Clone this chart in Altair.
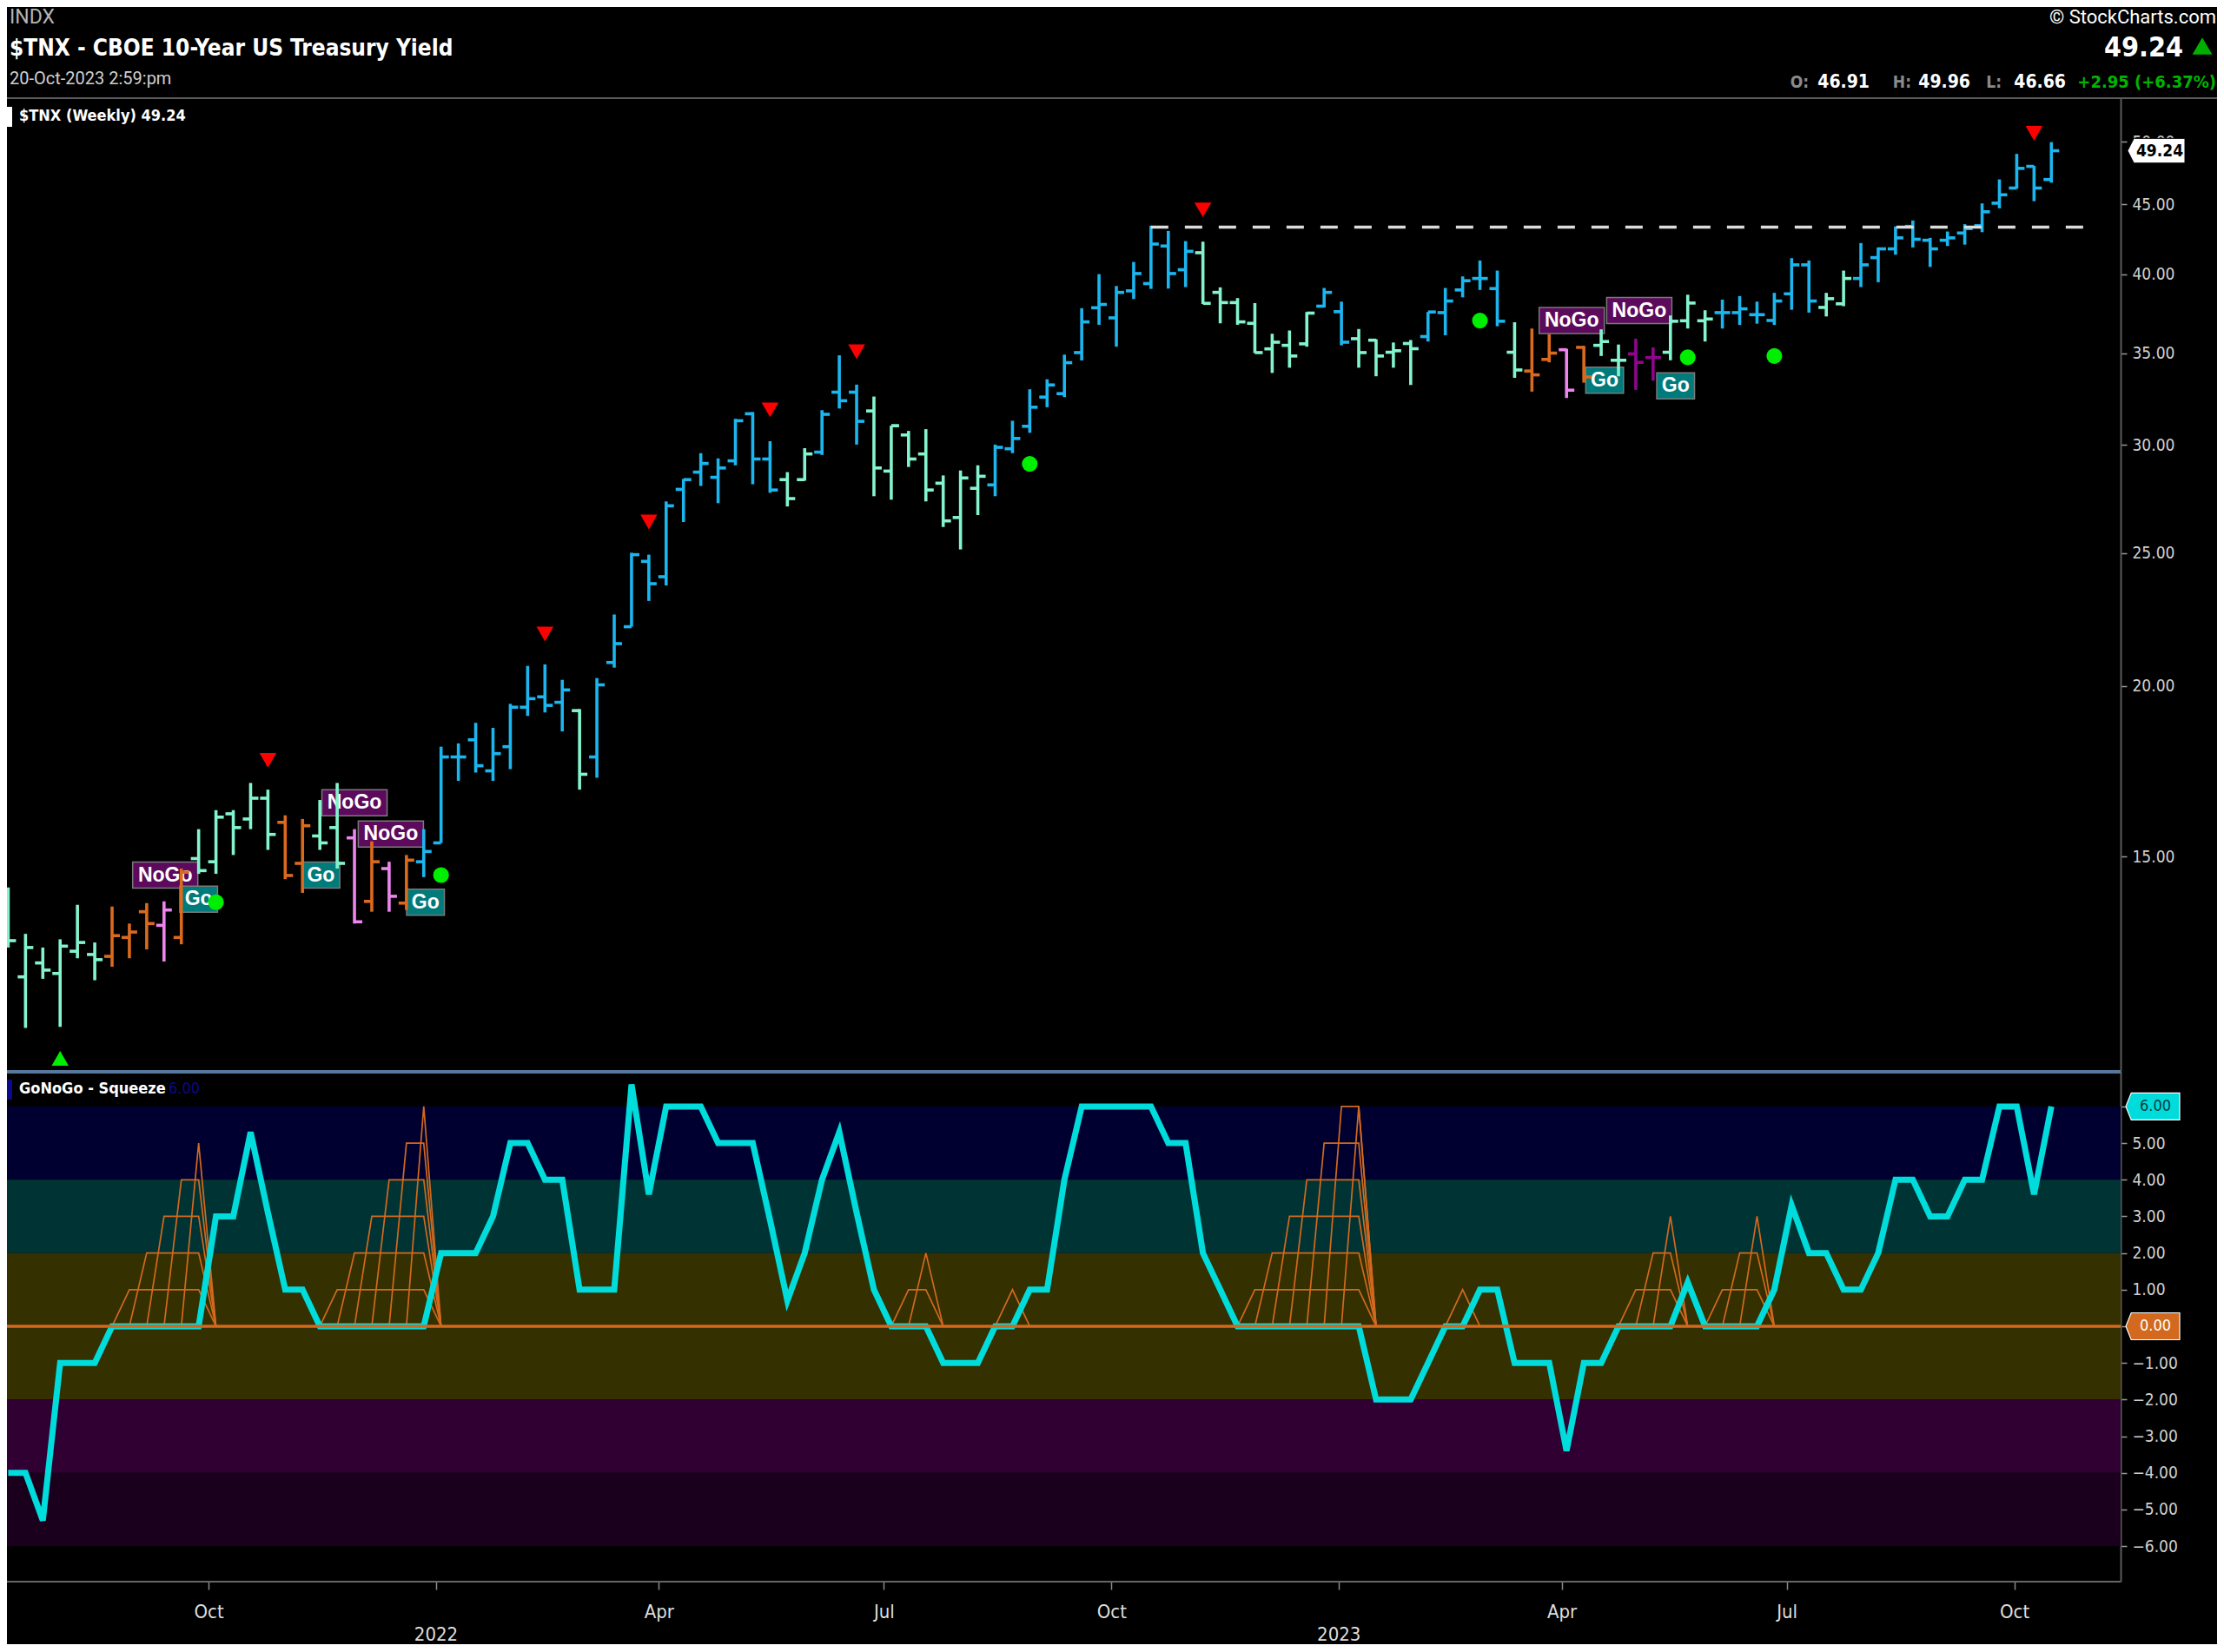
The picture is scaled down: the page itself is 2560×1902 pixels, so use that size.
import altair as alt
import numpy as np
import pandas as pd

# ------------------------------------------------------------------ data
week_start = "2021-07-12"          # first weekly bar

opens = [13.48, 12.25, 12.54, 12.32, 12.79, 12.72, 12.68, 13.09, 13.67, 13.36,
         13.09, 14.95, 14.87, 16.12, 15.98, 16.55, 15.89, 14.83, 15.53, 15.75,
         15.48, 13.91, 14.70, 13.87, 14.87, 15.35, 17.74, 18.26, 17.33, 18.05,
         19.29, 19.63, 19.45, 19.18, 17.74, 20.80, 22.09, 24.66, 24.03, 27.84,
         28.66, 28.41, 29.21, 31.62, 29.30, 28.30, 28.30, 29.64, 32.79, 32.79,
         31.77, 28.71, 30.51, 29.55, 28.13, 26.55, 27.89, 28.05, 29.81, 30.96,
         32.52, 32.71, 35.05, 37.80, 37.16, 38.89, 39.37, 41.94, 40.30, 41.47,
         38.79, 38.13, 36.82, 35.27, 35.48, 35.57, 37.90, 37.55, 35.88, 35.79,
         35.07, 35.59, 36.01, 37.49, 38.95, 39.71, 39.04, 35.07, 33.98, 34.65,
         35.22, 35.36, 35.48, 34.60, 34.98, 34.76, 35.07, 36.98, 36.98, 37.49,
         37.49, 37.36, 37.00, 38.70, 40.63, 37.82, 38.05, 39.71, 41.13, 41.74,
         43.35, 42.35, 42.35, 42.87, 43.40, 45.08, 46.24, 47.96, 46.91]
highs = [14.24, 13.17, 12.87, 13.05, 13.83, 12.98, 13.79, 13.40, 13.87, 13.91,
         14.70, 15.71, 16.22, 16.22, 16.98, 16.79, 16.08, 15.98, 16.50, 16.98,
         15.71, 15.39, 14.87, 15.04, 15.71, 18.05, 18.15, 18.79, 18.63, 19.40,
         20.68, 20.73, 20.20, 19.23, 20.26, 22.55, 25.02, 24.94, 27.28, 28.33,
         29.59, 29.33, 31.35, 31.71, 30.19, 28.66, 29.84, 31.81, 34.89, 33.21,
         32.55, 30.99, 30.72, 30.81, 28.50, 28.74, 28.99, 30.02, 31.25, 32.95,
         33.51, 34.93, 37.77, 40.00, 39.21, 40.83, 43.40, 43.02, 42.29, 42.25,
         39.12, 38.42, 38.10, 36.18, 36.38, 37.53, 39.08, 38.19, 36.47, 35.85,
         35.65, 35.80, 37.53, 39.08, 39.85, 40.93, 40.24, 36.89, 36.50, 36.15,
         35.28, 35.45, 36.45, 35.53, 35.88, 35.36, 37.31, 38.64, 37.64, 38.32,
         38.55, 38.19, 38.76, 41.09, 40.93, 38.76, 40.24, 42.15, 41.84, 43.35,
         43.78, 42.52, 42.98, 43.51, 45.06, 46.92, 48.98, 48.00, 49.96]
lows = [12.87, 11.24, 12.21, 11.26, 12.64, 12.18, 12.46, 12.64, 12.83, 12.57,
        12.94, 14.57, 14.57, 15.04, 15.71, 15.17, 14.44, 14.11, 15.17, 14.70,
        13.40, 13.67, 13.67, 13.71, 14.49, 15.35, 17.04, 17.28, 17.04, 17.38,
        19.01, 19.12, 18.52, 16.79, 17.13, 20.62, 22.09, 23.07, 23.68, 26.35,
        28.00, 27.20, 28.99, 28.08, 27.68, 27.05, 28.25, 29.50, 31.90, 30.02,
        27.52, 27.36, 28.91, 27.28, 26.13, 25.16, 26.66, 27.52, 29.59, 30.62,
        31.97, 32.52, 34.59, 36.73, 35.40, 38.36, 39.02, 39.04, 39.14, 38.04,
        36.82, 36.73, 35.02, 33.87, 34.17, 35.40, 37.82, 35.48, 34.17, 33.68,
        34.17, 33.19, 35.71, 36.09, 38.47, 38.95, 36.64, 33.59, 32.82, 34.48,
        32.47, 33.32, 34.85, 33.68, 32.92, 33.43, 34.60, 36.50, 35.71, 36.50,
        36.72, 36.80, 36.72, 37.67, 37.49, 37.25, 37.90, 39.14, 39.46, 41.33,
        41.84, 40.49, 41.94, 42.04, 42.93, 44.69, 46.19, 45.23, 46.66]
closes = [13.02, 12.87, 12.39, 12.90, 12.98, 12.61, 13.13, 13.21, 13.40, 13.71,
          14.61, 14.65, 16.03, 15.75, 16.55, 15.57, 14.53, 15.80, 15.35, 14.83,
          13.44, 14.87, 14.03, 14.91, 15.13, 17.74, 17.74, 17.48, 17.84, 19.29,
          19.57, 19.35, 19.86, 17.23, 20.03, 21.47, 24.94, 23.75, 27.08, 28.30,
          29.08, 28.86, 31.25, 29.30, 27.81, 27.41, 29.55, 31.59, 32.32, 31.22,
          28.86, 30.99, 29.30, 27.81, 26.40, 28.38, 28.46, 29.88, 30.33, 31.97,
          33.19, 34.46, 36.91, 38.01, 38.79, 40.04, 42.08, 40.04, 41.57, 38.08,
          38.13, 36.91, 35.05, 35.67, 34.85, 37.46, 38.79, 35.67, 35.05, 34.85,
          35.16, 35.28, 37.53, 38.23, 39.56, 39.71, 36.95, 34.04, 33.76, 35.02,
          32.90, 33.64, 35.71, 34.60, 34.48, 34.76, 36.95, 38.10, 37.09, 37.49,
          37.73, 37.36, 38.23, 40.63, 38.23, 38.38, 39.71, 40.63, 41.74, 42.52,
          42.42, 41.74, 42.52, 43.19, 44.43, 45.72, 47.80, 46.24, 49.24]
# GoNoGo trend colour per bar: b=strong Go, w=weak Go, a=amber, p=weak NoGo, n=NoGo
trend = list("wwwwww" "aaa" "p" "a" "wwwww" "aa" "ww" "p" "a" "p" "a"
             "bbbbbbbbb" "w" "bbbbbbbbbbb" "ww" "bbb" "wwwwwww" "bbbbbbbbbbbb"
             "wwwwwww" "bb" "wwww" "bbbbb" "w" "aa" "p" "a" "ww" "nn" "www"
             "bbbbbb" "ww" "bbbbbbbbbbbb")

squeeze_line = [-4, -4, -5.3, -1, -1, -1, 0, 0, 0, 0,
                0, 0, 3, 3, 5.3, 3.1, 1, 1, 0, 0,
                0, 0, 0, 0, 0, 2, 2, 2, 3, 5,
                5, 4, 4, 1, 1, 1, 6.6, 3.6, 6, 6,
                6, 5, 5, 5, 2.9, 0.7, 2, 4, 5.3, 3.1,
                1, 0, 0, 0, -1, -1, -1, 0, 0, 1,
                1, 4, 6, 6, 6, 6, 6, 5, 5, 2,
                1, 0, 0, 0, 0, 0, 0, 0, 0, -2,
                -2, -2, -1, 0, 0, 1, 1, -1, -1, -1,
                -3.4, -1, -1, 0, 0, 0, 0, 1.2, 0, 0,
                0, 0, 1, 3.3, 2, 2, 1, 1, 2, 4,
                4, 3, 3, 4, 4, 6, 6, 3.6, 6]
squeeze_count = [0, 0, 0, 0, 0, 0, 0, 1, 2, 3,
                 4, 5, 0, 0, 0, 0, 0, 0, 0, 1,
                 2, 3, 4, 5, 6, 0, 0, 0, 0, 0,
                 0, 0, 0, 0, 0, 0, 0, 0, 0, 0,
                 0, 0, 0, 0, 0, 0, 0, 0, 0, 0,
                 0, 0, 1, 2, 0, 0, 0, 0, 1, 0,
                 0, 0, 0, 0, 0, 0, 0, 0, 0, 0,
                 0, 0, 1, 2, 3, 4, 5, 6, 7, 0,
                 0, 0, 0, 0, 1, 0, 0, 0, 0, 0,
                 0, 0, 0, 0, 1, 2, 3, 0, 0, 1,
                 2, 3, 0, 0, 0, 0, 0, 0, 0, 0,
                 0, 0, 0, 0, 0, 0, 0, 0, 0]

red_tri_week = [15, 31, 37, 44, 49, 69, 117]
red_tri_val = [17.64, 21.82, 26.35, 31.83, 35.10, 44.57, 50.71]
green_tri_week = [3]
green_tri_val = [10.68]
dot_week = [12, 25, 59, 85, 97, 102]
dot_val = [13.89, 14.54, 29.06, 36.99, 34.77, 34.85]
nogo_week = [9.07, 20.0, 22.1, 90.3, 94.2]
nogo_val = [14.54, 16.42, 15.58, 36.99, 37.62]
go_week = [11.0, 18.06, 24.1, 92.2, 96.3]
go_val = [13.96, 14.54, 13.89, 33.46, 33.14]
resistance_week = [66, 120]
resistance_val = 43.3

band_lo = [4, 2, -2, -4, -6]
band_hi = [6, 4, 2, -2, -4]
band_col = ["#000030", "#003434", "#343000", "#300032", "#1a001c"]

month_ticks = ["2021-10-01", "2022-01-01", "2022-04-01", "2022-07-01", "2022-10-01",
               "2023-01-01", "2023-04-01", "2023-07-01", "2023-10-01"]
year_labels = ["2022", "2023"]
price_ticks = [15, 20, 25, 30, 35, 40, 45, 50]
osc_ticks = [-6, -5, -4, -3, -2, -1, 0, 1, 2, 3, 4, 5, 6]

# ------------------------------------------------------------------ layout
W = 2433
H0, H1, H2 = 105, 1120, 588
FN = "DejaVu Sans Condensed, Liberation Sans Narrow, sans-serif"
FR = "Roboto, Liberation Sans, sans-serif"
FB = "Liberation Sans, Arial, sans-serif"

base = pd.Timestamp(week_start)
n = len(opens)
assert len(trend) == n and len(squeeze_line) == n and len(squeeze_count) == n


def kdate(ks):
    return [(base + pd.Timedelta(days=7 * float(k))).strftime("%Y-%m-%dT%H:%M:%S") for k in ks]


dates = kdate(range(n))
xscale = alt.Scale(domain=[alt.DateTime(year=2021, month=7, date=11, hours=12),
                           alt.DateTime(year=2023, month=11, date=13)])
yscale = alt.Scale(type="log", domain=[10.455, 53.8], nice=False)
oscale = alt.Scale(domain=[-6.97, 6.97], nice=False, zero=False)

price_axis = alt.Axis(orient="right", values=price_ticks, format=".2f", grid=False,
                      tickSize=7, tickColor="#999999", tickWidth=1.5, domainColor="#5a5a5a",
                      domainWidth=2, labelColor="#d0d0d0", labelFontSize=19, labelFont=FN,
                      labelPadding=6, title=None)
# the 6.00 and 0.00 levels are shown in tags instead of plain labels
osc_axis = alt.Axis(orient="right", values=osc_ticks, grid=False,
                    labelExpr="datum.value == 0 || datum.value == 6 ? '' : format(datum.value, '.2f')",
                    tickSize=7, tickColor="#999999", tickWidth=1.5, domainColor="#5a5a5a",
                    domainWidth=2, labelColor="#d0d0d0", labelFontSize=19, labelFont=FN,
                    labelPadding=6, title=None)
x_axis = alt.Axis(values=[alt.DateTime(year=int(s[:4]), month=int(s[5:7]), date=1) for s in month_ticks],
                  labelExpr="month(datum.value) == 0 ? '' : timeFormat(datum.value, '%b')",
                  grid=False, tickSize=9, tickColor="#8a8a8a", tickWidth=1.5,
                  domain=False, labelColor="#dedede",
                  labelFontSize=22, labelFont=FN, labelPadding=15, title=None,
                  labelOverlap=False)

X = lambda f: alt.X(f, type="temporal", scale=xscale, axis=None)
Y = lambda f: alt.Y(f, type="quantitative", scale=yscale, axis=price_axis)
OX = lambda f: alt.X(f, type="temporal", scale=xscale, axis=x_axis)
OY = lambda f: alt.Y(f, type="quantitative", scale=oscale, axis=osc_axis)
dummy = pd.DataFrame({"t": [""]})


def text_layer(s, x, y, size, color, weight="normal", align="left", font=FN, baseline="middle"):
    return alt.Chart(pd.DataFrame({"t": [s]})).mark_text(
        align=align, baseline=baseline, fontSize=size, color=color,
        fontWeight=weight, font=font).encode(x=alt.value(x), y=alt.value(y), text="t:N")


def hline(x1, x2, y1, y2, color):
    return alt.Chart(dummy).mark_rect(color=color).encode(
        x=alt.value(x1), x2=alt.value(x2), y=alt.value(y1), y2=alt.value(y2))


# ------------------------------------------------------------------ header
header = alt.layer(
    text_layer("INDX", 3, 12, 23, "#b4b4b4", font=FR),
    text_layer("$TNX - CBOE 10-Year US Treasury Yield", 3, 48, 26, "#ffffff", "bold"),
    text_layer("20-Oct-2023 2:59:pm", 3, 83, 20, "#cfcfcf", font=FR),
    text_layer("© StockCharts.com", 2543, 12, 22, "#ffffff", align="right", font=FR),
    text_layer("49.24", 2505, 47, 32, "#ffffff", "bold", align="right"),
    alt.Chart(dummy).mark_point(shape="triangle-up", filled=True, color="#00b000",
                                opacity=1, size=520).encode(x=alt.value(2527), y=alt.value(45)),
    text_layer("O:", 2074, 87, 19, "#8a8a8a", "bold", align="right"),
    text_layer("46.91", 2144, 87, 21, "#ffffff", "bold", align="right"),
    text_layer("H:", 2192, 87, 19, "#8a8a8a", "bold", align="right"),
    text_layer("49.96", 2260, 87, 21, "#ffffff", "bold", align="right"),
    text_layer("L:", 2296, 87, 19, "#8a8a8a", "bold", align="right"),
    text_layer("46.66", 2370, 87, 21, "#ffffff", "bold", align="right"),
    text_layer("+2.95 (+6.37%)", 2543, 87, 20, "#00b400", "bold", align="right"),
    hline(0, 2544, H0 - 1, H0 + 1, "#5a5a5a"),
).properties(width=W, height=H0)

# ------------------------------------------------------------------ price panel
bars = pd.DataFrame({"date": dates, "open": opens, "high": highs, "low": lows,
                     "close": closes, "trend": trend})
tcolor = alt.Color("trend:N", legend=None,
                   scale=alt.Scale(domain=["b", "w", "a", "p", "n"],
                                   range=["#1cb6ef", "#84f4cc", "#d96a1e", "#ee84ee", "#8e068e"]))

nogo_df = pd.DataFrame({"date": kdate(nogo_week), "v": nogo_val, "t": ["NoGo"] * len(nogo_week)})
go_df = pd.DataFrame({"date": kdate(go_week), "v": go_val, "t": ["Go"] * len(go_week)})

nogo_box = alt.Chart(nogo_df).mark_point(
    shape="M-1,-0.4L1,-0.4L1,0.4L-1,0.4Z", size=5625, filled=True, fill="#5c0a5c",
    stroke="#7a7a7a", strokeWidth=1.5, opacity=1).encode(x=X("date"), y=Y("v"))
go_box = alt.Chart(go_df).mark_point(
    shape="M-0.58,-0.4L0.58,-0.4L0.58,0.4L-0.58,0.4Z", size=5625, filled=True, fill="#007a7a",
    stroke="#7a7a7a", strokeWidth=1.5, opacity=1).encode(x=X("date"), y=Y("v"))
lab_text = alt.Chart(pd.concat([nogo_df, go_df])).mark_text(
    color="#ffffff", fontSize=23, fontWeight="bold", font=FB, baseline="middle").encode(
    x=X("date"), y=Y("v"), text="t:N")

rng = alt.Chart(bars).mark_rule(strokeWidth=3.6, clip=True).encode(
    x=X("date"), y=Y("low"), y2="high:Q", color=tcolor)
otick = alt.Chart(bars).mark_tick(orient="horizontal", size=9, thickness=3.6, xOffset=-4.5,
                                  opacity=1, clip=True).encode(x=X("date"), y=Y("open"), color=tcolor)
ctick = alt.Chart(bars).mark_tick(orient="horizontal", size=9, thickness=3.6, xOffset=4.5,
                                  opacity=1, clip=True).encode(x=X("date"), y=Y("close"), color=tcolor)

res_df = pd.DataFrame({"d1": [kdate(resistance_week)[0]], "d2": [kdate(resistance_week)[1]],
                       "v": [resistance_val]})
resist = alt.Chart(res_df).mark_rule(strokeDash=[20, 19], strokeWidth=3.5, color="#dcdcdc").encode(
    x=X("d1"), x2="d2:T", y=Y("v"))

red_tri = alt.Chart(pd.DataFrame({"date": kdate(red_tri_week), "v": red_tri_val})).mark_point(
    shape="triangle-down", filled=True, color="#ff0000", opacity=1, size=380).encode(x=X("date"), y=Y("v"))
green_tri = alt.Chart(pd.DataFrame({"date": kdate(green_tri_week), "v": green_tri_val})).mark_point(
    shape="triangle-up", filled=True, color="#00ee00", opacity=1, size=380).encode(x=X("date"), y=Y("v"))
dots = alt.Chart(pd.DataFrame({"date": kdate(dot_week), "v": dot_val})).mark_circle(
    color="#00ee00", opacity=1, size=330).encode(x=X("date"), y=Y("v"))

legend_bar = hline(0, 6, 10, 33, "#ffffff")
legend_txt = text_layer("$TNX (Weekly) 49.24", 14, 21, 18, "#ffffff", "bold")

tag_df = pd.DataFrame({"v": [closes[-1]], "t": [f"{closes[-1]:.2f}"]})
ptag = alt.Chart(tag_df).mark_point(
    shape="M-1,0L-0.78,-0.43L1,-0.43L1,0.43L-0.78,0.43Z", size=4356, filled=True,
    fill="#ffffff", stroke="#000000", strokeWidth=1, opacity=1).encode(
    x=alt.value(W + 41), y=Y("v"))
ptag_t = alt.Chart(tag_df).mark_text(color="#000000", fontSize=19, fontWeight="bold",
                                     font=FN, baseline="middle").encode(
    x=alt.value(W + 45), y=Y("v"), text="t:N")

price = alt.layer(nogo_box, go_box, lab_text, rng, otick, ctick, resist, red_tri, green_tri,
                  dots, legend_bar, legend_txt, ptag, ptag_t).properties(width=W, height=H1)

# ------------------------------------------------------------------ oscillator panel
bands = pd.DataFrame({"lo": band_lo, "hi": band_hi, "c": band_col})
band_l = alt.Chart(bands).mark_rect().encode(
    x=alt.value(0), x2=alt.value(W), y=OY("lo"), y2="hi:Q",
    color=alt.Color("c:N", scale=None))

pyr_rows = []
for j in range(1, max(squeeze_count) + 1):
    for k in range(n):
        pyr_rows.append({"date": dates[k], "v": min(j, 6) if squeeze_count[k] >= j else 0, "j": j})
pyr = alt.Chart(pd.DataFrame(pyr_rows)).mark_line(color="#d2691e", strokeWidth=1.7, clip=True).encode(
    x=OX("date"), y=OY("v"), detail="j:N")

sq_df = pd.DataFrame({"date": dates, "v": squeeze_line})
sq = alt.Chart(sq_df).mark_line(color="#00dcdc", strokeWidth=7, strokeJoin="miter", clip=True).encode(
    x=OX("date"), y=OY("v"))

zero = alt.Chart(pd.DataFrame({"v": [0]})).mark_rule(color="#d2691e", strokeWidth=3.5, clip=True).encode(
    y=OY("v"))
divider = hline(0, W, -1, 3, "#56789a")
bottom_line = hline(0, W, H2 - 1, H2 + 1, "#666666")

years = alt.Chart(pd.DataFrame({"date": [f"{y}-01-01T00:00:00" for y in year_labels],
                                "t": year_labels})).mark_text(
    color="#dedede", fontSize=22, font=FN, baseline="middle").encode(
    x=OX("date"), y=alt.value(H2 + 61), text="t:N")

osc_leg_bar = hline(0, 6, 10, 33, "#0a0a8a")
osc_leg = text_layer("GoNoGo - Squeeze", 14, 21, 18, "#ffffff", "bold")
osc_leg_v = text_layer("6.00", 186, 21, 18, "#0a0a8a")

otag_df = pd.DataFrame({"v": [6, 0], "t": ["6.00", "0.00"],
                        "fill": ["#00dcdc", "#d2691e"], "tc": ["#053a3a", "#ffffff"]})
otag = alt.Chart(otag_df).mark_point(
    shape="M-1,0L-0.8,-0.5L1,-0.5L1,0.5L-0.8,0.5Z", size=3844, filled=True,
    stroke="#ffffff", strokeWidth=1.2, opacity=1).encode(
    x=alt.value(W + 37), y=OY("v"), fill=alt.Fill("fill:N", scale=None))
otag_t = alt.Chart(otag_df).mark_text(fontSize=18, font=FN, baseline="middle").encode(
    x=alt.value(W + 40), y=OY("v"), text="t:N", color=alt.Color("tc:N", scale=None))

osc = alt.layer(band_l, pyr, sq, zero, divider, bottom_line, years, osc_leg_bar, osc_leg,
                osc_leg_v, otag, otag_t).properties(width=W, height=H2)

chart = alt.vconcat(header, price, osc, spacing=0, bounds="flush").properties(
    background="#000000", padding=0).configure_view(stroke=None)

chart.save("out.html", embed_options={"renderer": "svg", "actions": False})
